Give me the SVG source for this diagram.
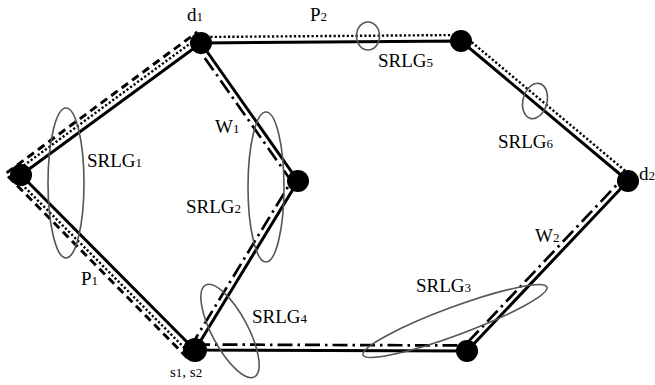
<svg xmlns="http://www.w3.org/2000/svg" width="655" height="385" viewBox="0 0 655 385">
<style>
.edge{stroke:#000;stroke-width:3;fill:none;stroke-linecap:round}
.dot{stroke:#000;stroke-width:2.4;fill:none;stroke-dasharray:2.2 2.2;stroke-linejoin:round}
.dash{stroke:#000;stroke-width:3;fill:none;stroke-dasharray:8 5;stroke-linejoin:round}
.dd{stroke:#000;stroke-width:2.7;fill:none;stroke-dasharray:15 5 2.5 5}
.srlg{stroke:#555;stroke-width:1.6;fill:none}
.node{fill:#000}
text{font-family:"Liberation Serif","Times New Roman",serif;font-size:19px;fill:#000}
.sub{font-size:13px}
</style>
<rect width="655" height="385" fill="#fff"/>
<g id="connectors">
<path class="edge" d="M21,175 L201,43 L461,41 L628,181 L467,351 L195,350 L21,175"/>
<path class="edge" d="M201,43 L298,181 L195,350"/>
<polyline id="P2" class="dot" points="190.75,354.23 11.83,174.29 199.01,37.02 463.16,34.98 631.85,176.4"/>
<polyline id="P1" class="dash" points="187.2,357.76 5.5,173.7 197.36,32.03"/>
<polyline id="W1" class="dd" points="190.3,347.14 291.43,181.21 196.5,46.16"/>
<polyline id="W2" class="dd" points="195,344.5 464.64,345.49 624,177.2"/>
</g>
<g id="srlgs">
<ellipse id="SRLG1" class="srlg" cx="66" cy="183" rx="18" ry="75"/>
<ellipse id="SRLG2" class="srlg" cx="266" cy="187" rx="18" ry="75"/>
<ellipse id="SRLG3" class="srlg" cx="455" cy="321" rx="98" ry="14" transform="rotate(-20.3 455 321)"/>
<ellipse id="SRLG4" class="srlg" cx="230" cy="331" rx="52" ry="18" transform="rotate(62 230 331)"/>
<ellipse id="SRLG5" class="srlg" cx="368" cy="36" rx="11.5" ry="14"/>
<ellipse id="SRLG6" class="srlg" cx="535" cy="101" rx="12" ry="18" transform="rotate(15 535 101)"/>
</g>
<g id="node-a"><circle class="node" cx="21" cy="175" r="11"/></g>
<g id="node-d1"><circle class="node" cx="201" cy="43" r="11"/></g>
<g id="node-b"><circle class="node" cx="461" cy="41" r="11"/></g>
<g id="node-d2"><circle class="node" cx="628" cy="181" r="11"/></g>
<g id="node-c"><circle class="node" cx="298" cy="181" r="11"/></g>
<g id="node-s"><circle class="node" cx="195" cy="350" r="12"/></g>
<g id="node-e"><circle class="node" cx="467" cy="351" r="11"/></g>
<g id="labels">
<text x="187" y="21">d<tspan class="sub">1</tspan></text>
<text x="310" y="21">P<tspan class="sub">2</tspan></text>
<text x="639" y="180">d<tspan class="sub">2</tspan></text>
<text x="87" y="167">SRLG<tspan class="sub">1</tspan></text>
<text x="186" y="213">SRLG<tspan class="sub">2</tspan></text>
<text x="416" y="292">SRLG<tspan class="sub">3</tspan></text>
<text x="252" y="323">SRLG<tspan class="sub">4</tspan></text>
<text x="378" y="67">SRLG<tspan class="sub">5</tspan></text>
<text x="498" y="148">SRLG<tspan class="sub">6</tspan></text>
<text x="215" y="133">W<tspan class="sub">1</tspan></text>
<text x="535" y="242">W<tspan class="sub">2</tspan></text>
<text x="81" y="285">P<tspan class="sub">1</tspan></text>
<text x="170" y="377" style="font-size:15px">s<tspan class="sub">1</tspan>, s<tspan class="sub">2</tspan></text>
</g>
</svg>
